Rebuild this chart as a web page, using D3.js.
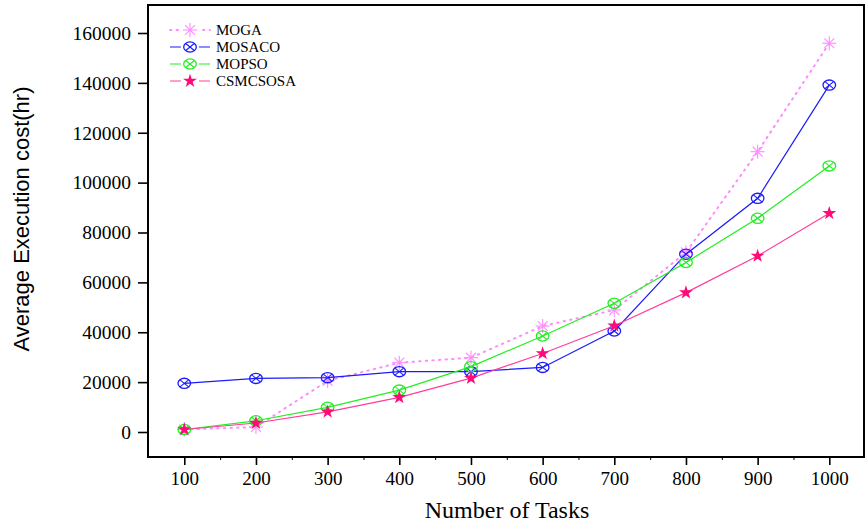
<!DOCTYPE html>
<html>
<head>
<meta charset="utf-8">
<script src="https://cdn.jsdelivr.net/npm/d3@7"></script>
<style>
    body { margin: 0; background: #fff; }
    svg { display: block; }
</style>
</head>
<body>
<div id="chart-area"></div>
<script>
// tasks on x axis
var tasks = [100, 200, 300, 400, 500, 600, 700, 800, 900, 1000];
var yTicks = [0, 20000, 40000, 60000, 80000, 100000, 120000, 140000, 160000];
var minorTicks = [150, 250, 350, 450, 550, 650, 750, 850, 950];

var seriesNames = ["MOGA", "MOSACO", "MOPSO", "CSMCSOSA"];
var mogaCost = [1000, 2000, 20500, 27800, 29800, 42500, 48900, 72000, 112400, 155900];
var mosacoCost = [19500, 21500, 21800, 24200, 24200, 25900, 40500, 71300, 93700, 139100];
var mopsoCost = [1000, 4500, 9900, 16800, 26200, 38500, 51600, 68000, 85700, 106700];
var csmcsosaCost = [1000, 3600, 8100, 13900, 21600, 31500, 42600, 55900, 70600, 87700];

var series = [
    { name: seriesNames[0], values: mogaCost, line: "#ff8cff", marker: "asterisk", dash: "1.4,5.2" },
    { name: seriesNames[1], values: mosacoCost, line: "#1a1aff", marker: "circlex", dash: null },
    { name: seriesNames[2], values: mopsoCost, line: "#22ee22", marker: "circlex", dash: null },
    { name: seriesNames[3], values: csmcsosaCost, line: "#ff3d99", marker: "star", dash: null, fill: "#ff0a78" }
];

var width = 866, height = 525;

var svg = d3.select("#chart-area").append("svg")
    .attr("width", width)
    .attr("height", height);

var xScale = d3.scaleLinear()
    .domain([100, 1000])
    .range([184.3, 829.3]);

var yScale = d3.scaleLinear()
    .domain([0, 160000])
    .range([432, 33]);

var frame = { left: 148, top: 5, right: 864, bottom: 457 };

// y axis
var yAxis = svg.append("g")
    .attr("transform", "translate(" + frame.left + ",0)")
    .call(d3.axisLeft(yScale).tickValues(yTicks).tickSize(10).tickPadding(7).tickFormat(d3.format("d")));
yAxis.select(".domain").remove();
yAxis.selectAll("line").attr("stroke-width", 1.6);
yAxis.selectAll("text")
    .style("font-family", "'Liberation Serif', 'Times New Roman', serif")
    .style("font-size", "19.5px")
    .attr("fill", "#000");

// x axis
var xAxis = svg.append("g")
    .attr("transform", "translate(0," + frame.bottom + ")")
    .call(d3.axisBottom(xScale).tickValues(tasks).tickSize(8).tickPadding(7).tickFormat(d3.format("d")));
xAxis.select(".domain").remove();
xAxis.selectAll("line").attr("stroke-width", 1.6);
xAxis.selectAll("text")
    .style("font-family", "'Liberation Serif', 'Times New Roman', serif")
    .style("font-size", "19px")
    .attr("fill", "#000");

var xMinor = svg.append("g")
    .attr("transform", "translate(0," + frame.bottom + ")")
    .call(d3.axisBottom(xScale).tickValues(minorTicks).tickSize(3).tickFormat(""));
xMinor.select(".domain").remove();

// frame
svg.append("rect")
    .attr("x", frame.left)
    .attr("y", frame.top)
    .attr("width", frame.right - frame.left)
    .attr("height", frame.bottom - frame.top)
    .attr("fill", "none")
    .attr("stroke", "#000")
    .attr("stroke-width", 2);

// axis titles
svg.append("text")
    .attr("transform", "translate(29,219) rotate(-90)")
    .style("text-anchor", "middle")
    .style("font-family", "'Liberation Sans', Arial, sans-serif")
    .style("font-size", "22px")
    .text("Average Execution cost(hr)");

svg.append("text")
    .attr("x", 507)
    .attr("y", 518)
    .style("text-anchor", "middle")
    .style("font-family", "'Liberation Serif', 'Times New Roman', serif")
    .style("font-size", "24px")
    .text("Number of Tasks");

function drawMarker(g, s, x, y) {
    if (s.marker == "asterisk") {
        var r = 7;
        [0, 45, 90, 135].forEach(function (a) {
            var dx = r * Math.cos(a * Math.PI / 180), dy = r * Math.sin(a * Math.PI / 180);
            g.append("line")
                .attr("x1", x - dx).attr("y1", y - dy)
                .attr("x2", x + dx).attr("y2", y + dy)
                .attr("stroke", s.line)
                .attr("stroke-width", 1.1);
        });
    } else if (s.marker == "circlex") {
        g.append("ellipse")
            .attr("cx", x).attr("cy", y)
            .attr("rx", 6.3).attr("ry", 5.1)
            .attr("fill", "none")
            .attr("stroke", s.line)
            .attr("stroke-width", 1.3);
        g.append("path")
            .attr("d", "M" + (x - 4.3) + "," + (y - 3.5) + "L" + (x + 4.3) + "," + (y + 3.5) +
                "M" + (x - 4.3) + "," + (y + 3.5) + "L" + (x + 4.3) + "," + (y - 3.5))
            .attr("stroke", s.line)
            .attr("stroke-width", 1.1);
    } else {
        g.append("path")
            .attr("d", d3.symbol().type(d3.symbolStar).size(60)())
            .attr("transform", "translate(" + x + "," + y + ")")
            .attr("fill", s.fill);
    }
}

var line = d3.line()
    .x(function (d, i) { return xScale(tasks[i]); })
    .y(function (d) { return yScale(d); });

series.forEach(function (s) {
    var g = svg.append("g").attr("class", "series");
    g.append("path")
        .datum(s.values)
        .attr("fill", "none")
        .attr("stroke", s.line)
        .attr("stroke-width", s.dash ? 2 : 1.2)
        .attr("stroke-linecap", s.dash ? "round" : "butt")
        .attr("stroke-dasharray", s.dash)
        .attr("d", line);
    s.values.forEach(function (v, i) {
        drawMarker(g, s, xScale(tasks[i]), yScale(v));
    });
});

// legend
var legend = svg.append("g").attr("class", "legend");
var legendRows = [30, 47, 64, 81];
series.forEach(function (s, i) {
    var y = legendRows[i];
    legend.append("line")
        .attr("x1", 170).attr("x2", 210)
        .attr("y1", y).attr("y2", y)
        .attr("stroke", s.line)
        .attr("stroke-width", s.dash ? 2 : 1.2)
        .attr("stroke-linecap", s.dash ? "round" : "butt")
        .attr("stroke-dasharray", s.dash);
    // white gap behind marker like the original
    legend.append("rect")
        .attr("x", 181).attr("y", y - 6).attr("width", 18).attr("height", 12)
        .attr("fill", "#fff");
    drawMarker(legend, s, 190, y);
    legend.append("text")
        .attr("x", 216)
        .attr("y", y + 5)
        .style("font-family", "'Liberation Serif', 'Times New Roman', serif")
        .style("font-size", "15px")
        .text(s.name);
});
</script>
</body>
</html>
